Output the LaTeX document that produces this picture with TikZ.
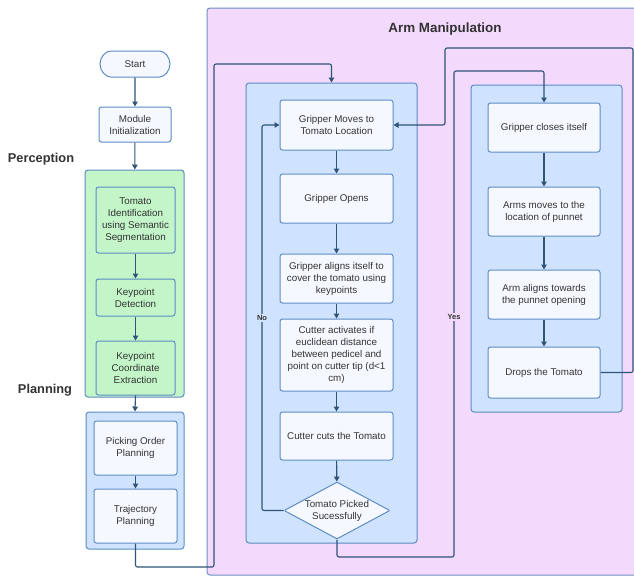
\documentclass[tikz,border=0pt]{standalone}
\usepackage{fontspec}
\setmainfont{Liberation Sans}
\usetikzlibrary{shapes.misc,shapes.geometric,arrows.meta}
\definecolor{pinkfill}{HTML}{F3D9FC}
\definecolor{pinkborder}{HTML}{6E8FC4}
\definecolor{contfill}{HTML}{CFE3FF}
\definecolor{bordercol}{HTML}{5D8CC4}
\definecolor{boxfill}{HTML}{F5F9FF}
\definecolor{greenfill}{HTML}{C4F5C8}
\definecolor{arrowcol}{HTML}{2F5379}
\definecolor{textcol}{HTML}{333333}
\tikzset{
  container/.style={draw=bordercol, line width=1pt, rounded corners=3pt, inner sep=0pt},
  procbox/.style={draw=bordercol, fill=boxfill, line width=1pt, rounded corners=2.5pt, align=center,
    inner sep=1pt, text=textcol, font=\fontsize{9.8}{12}\selectfont},
  greenbox/.style={procbox, fill=greenfill},
  arrowline/.style={draw=arrowcol, line width=1.1pt, rounded corners=2pt, -{Triangle[length=5pt,width=5.5pt]}},
  plainline/.style={draw=arrowcol, line width=1.1pt, rounded corners=2pt},
  section/.style={font=\fontsize{12.8}{14}\selectfont\bfseries, text=textcol},
  edgelabel/.style={font=\fontsize{7.5}{8}\selectfont\bfseries, text=textcol, inner sep=1.5pt}
}
\begin{document}
\begin{tikzpicture}[x=1pt,y=-1pt]
\useasboundingbox (0,0) rectangle (634,576);
\clip (0,0) rectangle (634,576);
\fill[white] (0,0) rectangle (634,576);

% Arm manipulation background
\node[container, draw=pinkborder, fill=pinkfill, minimum width=440, minimum height=567] (arm) at (427,291.5) {};
\node[section, font=\fontsize{13.4}{15}\selectfont\bfseries] (armtitle) at (445,29) {Arm Manipulation};

% left column
\node[procbox, rounded rectangle, minimum width=72, minimum height=26] (start) at (135,64) {Start};
\node[procbox, minimum width=72, minimum height=35] (init) at (135,124.5) {Module\\Initialization};
\node[section] (perc) at (41,159) {Perception};
\node[container, fill=greenfill, minimum width=99, minimum height=227] (green) at (134.5,283.5) {};
\node[greenbox, minimum width=79, minimum height=66] (tomid) at (135.5,220) {Tomato\\Identification\\using Semantic\\Segmentation};
\node[greenbox, minimum width=79, minimum height=37] (kpd) at (135.5,297.5) {Keypoint\\Detection};
\node[greenbox, minimum width=79, minimum height=54] (kpe) at (135.5,368) {Keypoint\\Coordinate\\Extraction};
\node[section] (plan) at (45,390) {Planning};
\node[container, fill=contfill, minimum width=98, minimum height=137] (planc) at (135,480.5) {};
\node[procbox, minimum width=83, minimum height=54] (pick) at (135.5,448) {Picking Order\\Planning};
\node[procbox, minimum width=83, minimum height=54] (traj) at (135.5,516) {Trajectory\\Planning};

% middle column
\node[container, fill=contfill, minimum width=171, minimum height=460] (midc) at (331.5,313) {};
\node[procbox, minimum width=113, minimum height=50] (gm) at (336.5,125) {Gripper Moves to\\Tomato Location};
\node[procbox, minimum width=113, minimum height=49] (go) at (336.5,198.5) {Gripper Opens};
\node[procbox, minimum width=113, minimum height=49] (ga) at (336.5,278.5) {Gripper aligns itself to\\cover the tomato using\\keypoints};
\node[procbox, minimum width=113, minimum height=72] (ca) at (336.5,355) {Cutter activates if\\euclidean distance\\between pedicel and\\point on cutter tip (d<1\\cm)};
\node[procbox, minimum width=113, minimum height=48] (cc) at (336.5,436) {Cutter cuts the Tomato};
\node[procbox, diamond, aspect=1.86, inner sep=-2pt, minimum width=106, minimum height=57, rounded corners=1pt] (dec) at (337,510.5) {Tomato Picked\\Sucessfully};

% right column
\node[container, fill=contfill, minimum width=151, minimum height=327] (rightc) at (546.5,248.5) {};
\node[procbox, minimum width=112, minimum height=49] (gc) at (544,127.5) {Gripper closes itself};
\node[procbox, minimum width=112, minimum height=49] (am) at (544,211.5) {Arms moves to the\\location of punnet};
\node[procbox, minimum width=112, minimum height=49] (aa) at (544,294.5) {Arm aligns towards\\the punnet opening};
\node[procbox, minimum width=112, minimum height=51] (dt) at (544,372.5) {Drops the Tomato};

% coordinates for routing
\coordinate (c1) at (214,567);
\coordinate (c2) at (214,64);
\coordinate (nocol) at (262,318);
\coordinate (yesb) at (454,557);
\coordinate (yest) at (454,71);
\coordinate (r1) at (633,48);
\coordinate (r2) at (445,125);

% connectors left
\draw[arrowline] (start) -- (init);
\draw[arrowline] (init) -- (green);
\draw[arrowline] (tomid) -- (kpd);
\draw[arrowline] (kpd) -- (kpe);
\draw[arrowline] (kpe.south) -- (planc.north);
\draw[arrowline] (pick) -- (traj);
\draw[arrowline] (traj.south) |- (c1) -- (c2) -| (midc.north);

% middle
\draw[arrowline] (gm) -- (go);
\draw[arrowline] (go) -- (ga);
\draw[arrowline] (ga) -- (ca);
\draw[arrowline] (ca) -- (cc);
\draw[arrowline] (cc) -- (dec);
\draw[arrowline] (dec.west) -| (nocol) |- (gm.west);
\node[edgelabel, fill=contfill] (nolab) at (nocol) {No};
\draw[arrowline] (dec.south) |- (yesb) -- (yest) -| (gc.north);
\node[edgelabel, fill=pinkfill] (yeslab) at (454,317) {Yes};

% right
\draw[arrowline] (gc) -- (am);
\draw[arrowline] (am) -- (aa);
\draw[arrowline] (aa) -- (dt);
\draw[arrowline] (dt.east) -| (r1) -| (r2) -- (gm.east);
\end{tikzpicture}
\end{document}
